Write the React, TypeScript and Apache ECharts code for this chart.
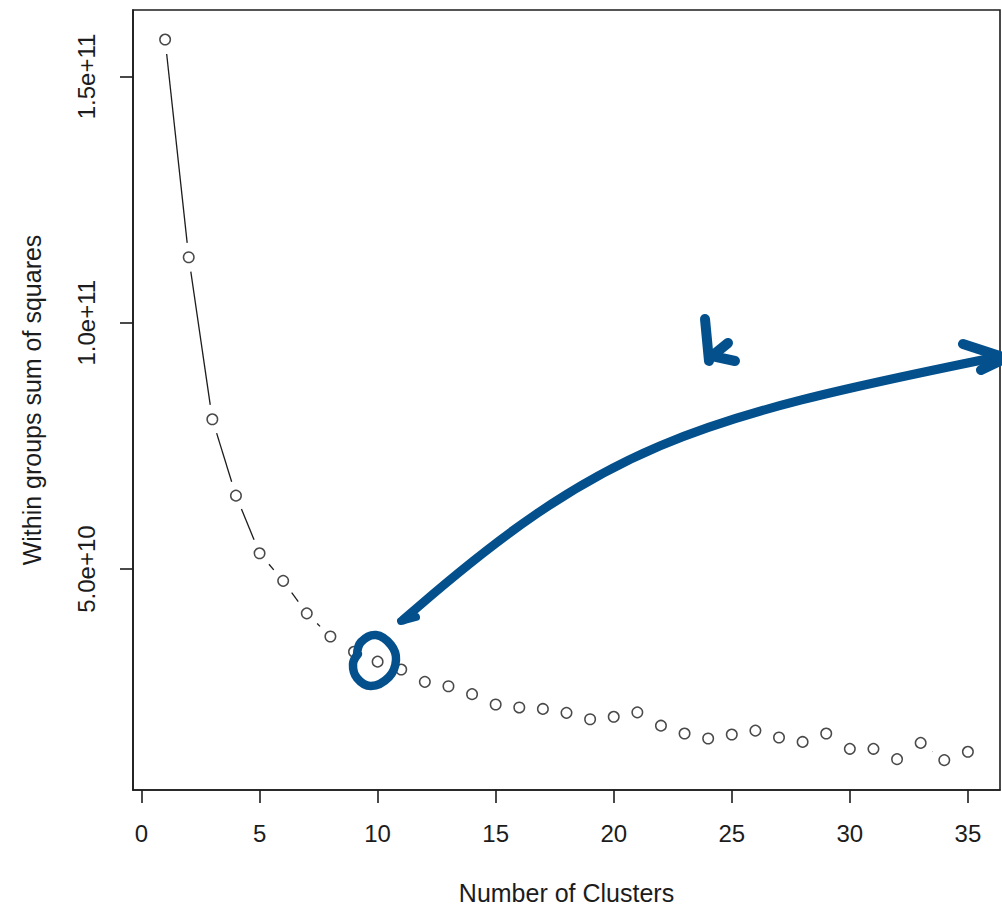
import React, { useEffect, useRef } from "react";
import * as echarts from "echarts";

// ---- data ----
const clusterCounts: number[] = [
  1, 2, 3, 4, 5, 6, 7, 8, 9, 10, 11, 12, 13, 14, 15, 16, 17, 18, 19, 20,
  21, 22, 23, 24, 25, 26, 27, 28, 29, 30, 31, 32, 33, 34, 35,
];
const withinSS: number[] = [
  157.5e9, 113.3e9, 80.4e9, 64.9e9, 53.2e9, 47.6e9, 41.0e9, 36.3e9, 33.2e9, 31.2e9,
  29.6e9, 27.1e9, 26.2e9, 24.6e9, 22.5e9, 21.9e9, 21.6e9, 20.8e9, 19.5e9, 20.0e9,
  20.9e9, 18.2e9, 16.6e9, 15.6e9, 16.4e9, 17.2e9, 15.8e9, 14.9e9, 16.6e9, 13.5e9,
  13.5e9, 11.4e9, 14.7e9, 11.2e9, 12.9e9,
];
const xTickValues: number[] = [0, 5, 10, 15, 20, 25, 30, 35];
const yTickValues: number[] = [5e10, 1e11, 1.5e11];
const yTickLabels: string[] = ["5.0e+10", "1.0e+11", "1.5e+11"];
const xTitle = "Number of Clusters";
const yTitle = "Within groups sum of squares";
const annotationLabel = "k";

const FONT = "'Liberation Sans', Arial, Helvetica, sans-serif";
const INK = "#1c1c1c";
const BLUE = "#03508c";
const GAP = 14.5;

export default function App() {
  const ref = useRef<HTMLDivElement>(null);

  useEffect(() => {
    document.body.style.margin = "0";
    if (!ref.current) return;
    const chart = echarts.init(ref.current, null, { renderer: "svg" });

    const points = clusterCounts.map((k, i) => [k, withinSS[i]]);
    const segments = clusterCounts.slice(0, -1).map((k, i) => [
      k,
      withinSS[i],
      clusterCounts[i + 1],
      withinSS[i + 1],
    ]);

    const option: any = {
      animation: false,
      backgroundColor: "#ffffff",
      grid: {
        left: 133,
        top: 10,
        right: 2,
        bottom: 121,
        show: true,
        borderColor: INK,
        borderWidth: 1.6,
        backgroundColor: "transparent",
        outerBoundsMode: "none",
      },
      xAxis: {
        type: "value",
        min: -0.36,
        max: 36.36,
        name: xTitle,
        nameLocation: "middle",
        nameGap: 90,
        nameTextStyle: { fontFamily: FONT, fontSize: 25, color: INK },
        axisLine: { show: true, onZero: false, lineStyle: { color: INK, width: 1.6 } },
        axisTick: {
          show: true,
          customValues: xTickValues,
          length: 13,
          lineStyle: { color: INK, width: 1.6 },
        },
        axisLabel: {
          show: true,
          customValues: xTickValues,
          margin: 31,
          fontFamily: FONT,
          fontSize: 24,
          color: INK,
        },
        splitLine: { show: false },
      },
      yAxis: {
        type: "value",
        min: 5.14e9,
        max: 163.5e9,
        name: yTitle,
        nameLocation: "middle",
        nameGap: 89,
        nameRotate: 90,
        nameTextStyle: { fontFamily: FONT, fontSize: 25, color: INK },
        axisLine: { show: true, onZero: false, lineStyle: { color: INK, width: 1.6 } },
        axisTick: {
          show: true,
          customValues: yTickValues,
          length: 13,
          lineStyle: { color: INK, width: 1.6 },
        },
        axisLabel: {
          show: true,
          customValues: yTickValues,
          rotate: 90,
          margin: 35,
          fontFamily: FONT,
          fontSize: 24,
          color: INK,
          formatter: (v: number) => {
            const idx = yTickValues.findIndex((t) => Math.abs(t - v) < 1);
            return idx >= 0 ? yTickLabels[idx] : "";
          },
        },
        splitLine: { show: false },
      },
      series: [
        {
          type: "custom",
          data: segments,
          encode: { x: [0, 2], y: [1, 3] },
          silent: true,
          z: 2,
          renderItem: (_params: any, api: any) => {
            const p0 = api.coord([api.value(0), api.value(1)]);
            const p1 = api.coord([api.value(2), api.value(3)]);
            const dx = p1[0] - p0[0];
            const dy = p1[1] - p0[1];
            const len = Math.sqrt(dx * dx + dy * dy);
            if (len <= 2 * GAP) return { type: "group", children: [] };
            const ux = dx / len;
            const uy = dy / len;
            return {
              type: "line",
              shape: {
                x1: p0[0] + ux * GAP,
                y1: p0[1] + uy * GAP,
                x2: p1[0] - ux * GAP,
                y2: p1[1] - uy * GAP,
              },
              style: { stroke: INK, lineWidth: 1.3 },
            };
          },
        },
        {
          type: "scatter",
          data: points,
          symbol: "circle",
          symbolSize: 10.5,
          z: 3,
          itemStyle: {
            color: "rgba(255,255,255,0)",
            borderColor: INK,
            borderWidth: 1.5,
          },
        },
      ],
      graphic: [
        {
          type: "bezierCurve",
          z: 100,
          shape: {
            x1: 403,
            y1: 620,
            cpx1: 603,
            cpy1: 444,
            cpx2: 692,
            cpy2: 419,
            x2: 992,
            y2: 358,
          },
          style: { stroke: BLUE, lineWidth: 9, fill: null, lineCap: "round" },
        },
        {
          type: "polyline",
          z: 100,
          shape: { points: [[401, 621], [416, 617]] },
          style: { stroke: BLUE, lineWidth: 8, fill: null, lineCap: "round" },
        },
        {
          type: "polyline",
          z: 100,
          shape: { points: [[963, 344], [1006, 358], [981, 370]] },
          style: {
            stroke: BLUE,
            lineWidth: 10,
            fill: null,
            lineCap: "round",
            lineJoin: "round",
          },
        },
        {
          type: "polyline",
          z: 100,
          shape: { points: [[705, 319], [709, 361]] },
          style: { stroke: BLUE, lineWidth: 10, fill: null, lineCap: "round" },
        },
        {
          type: "polyline",
          z: 100,
          shape: { points: [[728, 343], [712, 356], [735, 361]] },
          style: {
            stroke: BLUE,
            lineWidth: 10,
            fill: null,
            lineCap: "round",
            lineJoin: "round",
          },
        },
        {
          type: "polyline",
          z: 100,
          shape: {
            smooth: 0.4,
            points: [
              [357, 655],
              [361, 642],
              [376, 635],
              [391, 645],
              [396, 660],
              [389, 677],
              [371, 686],
              [357, 678],
              [353, 664],
              [358, 654],
            ],
          },
          style: {
            stroke: BLUE,
            lineWidth: 8.5,
            fill: null,
            lineCap: "round",
            lineJoin: "round",
          },
        },
        {
          type: "text",
          invisible: true,
          style: { text: annotationLabel, x: 0, y: 0 },
        },
      ],
    };

    chart.setOption(option);
    return () => chart.dispose();
  }, []);

  return <div ref={ref} style={{ width: 1002, height: 911 }} />;
}
